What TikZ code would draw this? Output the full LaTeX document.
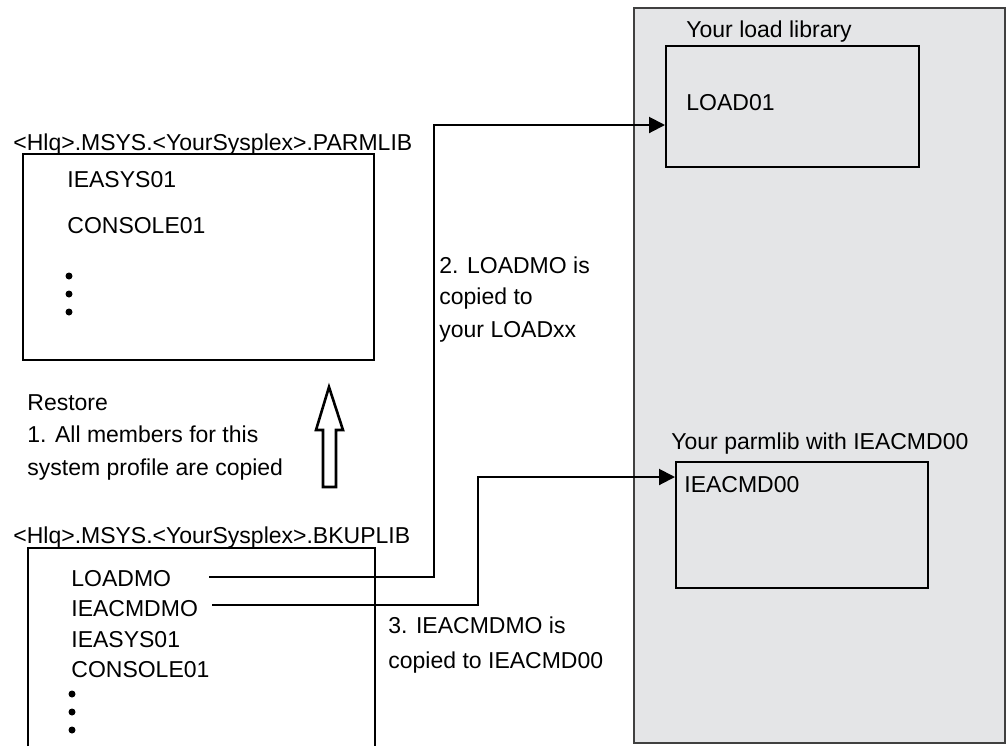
\documentclass[tikz,border=0pt]{standalone}
\usepackage{fontspec}
\setmainfont{Liberation Sans}
\usetikzlibrary{arrows.meta,calc,positioning}
\definecolor{panelgray}{HTML}{E4E5E7}
\tikzset{
  libbox/.style={draw,line width=1pt,rectangle,anchor=north west,inner sep=0pt},
  lbl/.style={anchor=base west,inner sep=0pt,font=\fontsize{11.5}{14}\selectfont},
  flow/.style={line width=1pt,-{Triangle[length=8pt,width=8pt]}},
  lead/.style={line width=1pt}
}
\begin{document}
\begin{tikzpicture}[x=0.5pt,y=-0.5pt,>=Stealth]
  \useasboundingbox (0,0) rectangle (1007,746);

  \node[libbox,draw=black!75,fill=panelgray,minimum width=185.5pt,minimum height=367.5pt] (sys) at (633,7) {};
  \node[libbox,minimum width=126.5pt,minimum height=60.5pt] (loadlib) at (665,45) {};
  \node[libbox,minimum width=126pt,minimum height=63pt] (parmbox) at (675,461) {};
  \node[libbox,minimum width=175.5pt,minimum height=103pt] (parmlib) at (22,153) {};
  \draw[lead] (28,746) -- (28,548) -- (375,548) -- (375,746);

  \node[lbl] (tloadlib) at (686,37) {Your load library};
  \node[lbl] (load01) at (686,110) {LOAD01};
  \node[lbl] (tparmbox) at (671,449) {Your parmlib with IEACMD00};
  \node[lbl] (cmd00) at (684,492) {IEACMD00};

  \node[lbl] (tparmlib) at (13,150) {<Hlq>.MSYS.<YourSysplex>.PARMLIB};
  \node[lbl] (sys01a) at (67,187) {IEASYS01};
  \node[lbl] (con01a) at (67,233) {CONSOLE01};
  \foreach \y in {276,294,312} \fill (69,\y) circle (1.75pt);

  \node[lbl] (restore) at (27,410) {Restore};
  \node[lbl] (step1a) at (27,442) {1. All members for this};
  \node[lbl] (step1b) at (27,475) {system profile are copied};
  \draw[line width=1.3pt,line join=miter,fill=white] (323,487) -- (323,430) -- (316,430) -- (329,387)
    -- (343,430) -- (336,430) -- (336,487) -- cycle;

  \node[lbl] (tbkuplib) at (13,543) {<Hlq>.MSYS.<YourSysplex>.BKUPLIB};
  \node[lbl] (loadmo) at (71,586) {LOADMO};
  \node[lbl] (cmdmo) at (71,616) {IEACMDMO};
  \node[lbl] (sys01b) at (71,647) {IEASYS01};
  \node[lbl] (con01b) at (71,677) {CONSOLE01};
  \foreach \y in {694,712,730} \fill (72,\y) circle (1.75pt);

  \node[lbl] (step2a) at (439,273) {2. LOADMO is};
  \node[lbl] (step2b) at (439,304) {copied to};
  \node[lbl] (step2c) at (439,337) {your LOADxx};
  \node[lbl] (step3a) at (388,633) {3. IEACMDMO is};
  \node[lbl] (step3b) at (388,668) {copied to IEACMD00};

  \coordinate (s1) at (209,577);
  \coordinate (k1) at (434,125);
  \coordinate (s2) at (212,605);
  \coordinate (k2) at (478,477);
  \draw[flow] (s1) -| (k1) -- (k1 -| loadlib.west);
  \draw[flow] (s2) -| (k2) -- (k2 -| parmbox.west);
\end{tikzpicture}
\end{document}
